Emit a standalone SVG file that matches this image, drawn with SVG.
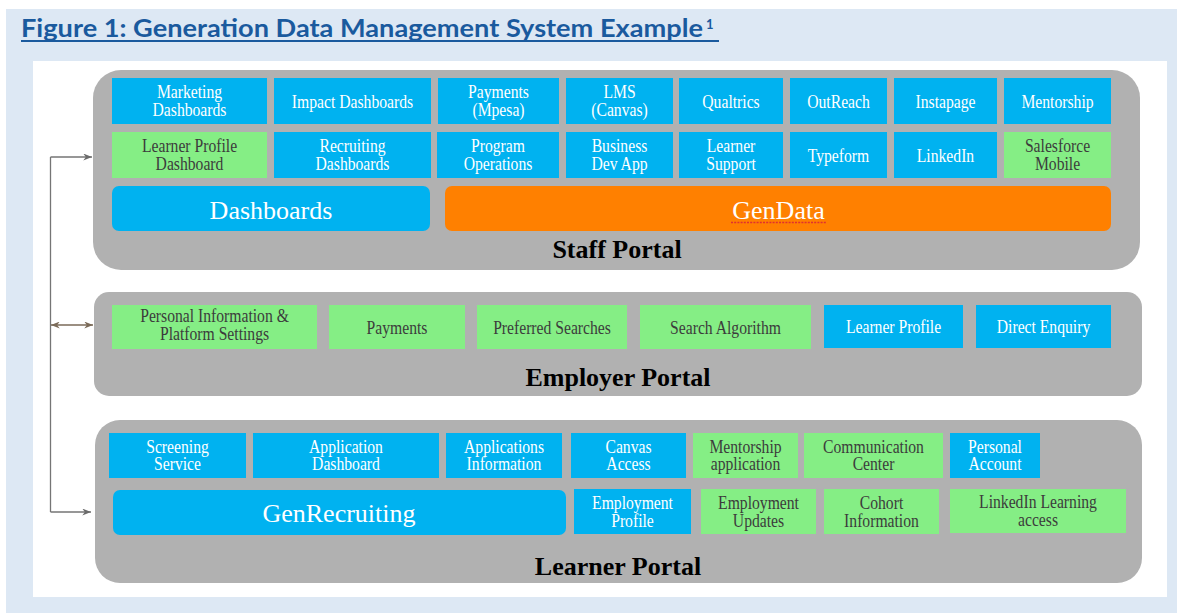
<svg xmlns="http://www.w3.org/2000/svg" width="1177" height="613" viewBox="0 0 1177 613">
  <defs>
    <style>
      .portal{fill:#b1b1b1}
      .b{fill:#00b2f0}
      .g{fill:#85ee85}
      .t{font-family:"Liberation Serif","Times New Roman",serif;font-size:18px;text-anchor:middle}
      .tw{fill:#ffffff}
      .td{fill:#3c3c3c}
      .big{font-family:"Liberation Serif","Times New Roman",serif;font-size:26px;fill:#ffffff;text-anchor:middle}
      .lbl{font-family:"Liberation Serif","Times New Roman",serif;font-size:26px;font-weight:bold;fill:#000000;text-anchor:middle}
      .conn{fill:none;stroke:#757575;stroke-width:1.3}
      .conn2{fill:none;stroke:#7a6a58;stroke-width:1.3}
    </style>
    <marker id="ah" viewBox="0 0 10 8" refX="10" refY="4" markerWidth="9" markerHeight="7" markerUnits="userSpaceOnUse" orient="auto-start-reverse">
      <path d="M0,0 L10,4 L0,8 L3,4 z" fill="#6b6b6b"/>
    </marker>
    <marker id="ahb" viewBox="0 0 10 8" refX="10" refY="4" markerWidth="9" markerHeight="7" markerUnits="userSpaceOnUse" orient="auto-start-reverse">
      <path d="M0,0 L10,4 L0,8 L3,4 z" fill="#7a6a58"/>
    </marker>
  </defs>

  <!-- page background and figure panel -->
  <rect x="0" y="0" width="1177" height="613" fill="#ffffff"/>
  <rect x="6" y="9" width="1171" height="604" fill="#dde8f4"/>
  <rect x="33" y="61" width="1134" height="536" fill="#ffffff"/>

  <!-- caption -->
  <g id="caption">
    <text x="21" y="37" font-family="Lato, 'Liberation Sans', sans-serif" font-weight="bold" font-size="25.5" fill="#1a5a9e" textLength="682" lengthAdjust="spacingAndGlyphs">Figure 1: Generation Data Management System Example</text>
    <text x="706" y="29" font-family="Lato, 'Liberation Sans', sans-serif" font-weight="bold" font-size="13" fill="#1a5a9e">1</text>
    <line x1="21" y1="41" x2="719" y2="41" stroke="#1a5a9e" stroke-width="2"/>
  </g>

  <!-- Staff Portal -->
  <g id="staff-portal">
    <rect class="portal" x="93" y="70" width="1047" height="200" rx="28"/>
    <text class="lbl" x="617" y="258">Staff Portal</text>
  </g>
  <g id="marketing-dashboards"><rect class="b" x="112" y="78" width="155" height="46"/>
    <text class="t tw" transform="translate(189.5 98) scale(.87 1)"><tspan x="0">Marketing</tspan><tspan x="0" dy="18">Dashboards</tspan></text></g>
  <g id="impact-dashboards"><rect class="b" x="274" y="78" width="157" height="46"/>
    <text class="t tw" transform="translate(352.5 107.5) scale(.87 1)">Impact Dashboards</text></g>
  <g id="payments-mpesa"><rect class="b" x="438" y="78" width="121" height="46"/>
    <text class="t tw" transform="translate(498.5 98) scale(.87 1)"><tspan x="0">Payments</tspan><tspan x="0" dy="18">(Mpesa)</tspan></text></g>
  <g id="lms-canvas"><rect class="b" x="566" y="78" width="107" height="46"/>
    <text class="t tw" transform="translate(619.5 98) scale(.87 1)"><tspan x="0">LMS</tspan><tspan x="0" dy="18">(Canvas)</tspan></text></g>
  <g id="qualtrics"><rect class="b" x="679" y="78" width="104" height="46"/>
    <text class="t tw" transform="translate(731 107.5) scale(.87 1)">Qualtrics</text></g>
  <g id="outreach"><rect class="b" x="790" y="78" width="97" height="46"/>
    <text class="t tw" transform="translate(838.5 107.5) scale(.87 1)">OutReach</text></g>
  <g id="instapage"><rect class="b" x="894" y="78" width="103" height="46"/>
    <text class="t tw" transform="translate(945.5 107.5) scale(.87 1)">Instapage</text></g>
  <g id="mentorship"><rect class="b" x="1004" y="78" width="107" height="46"/>
    <text class="t tw" transform="translate(1057.5 107.5) scale(.87 1)">Mentorship</text></g>

  <g id="learner-profile-dashboard"><rect class="g" x="112" y="132" width="155" height="46"/>
    <text class="t td" transform="translate(189.5 152) scale(.87 1)"><tspan x="0">Learner Profile</tspan><tspan x="0" dy="18">Dashboard</tspan></text></g>
  <g id="recruiting-dashboards"><rect class="b" x="274" y="132" width="157" height="46"/>
    <text class="t tw" transform="translate(352.5 152) scale(.87 1)"><tspan x="0">Recruiting</tspan><tspan x="0" dy="18">Dashboards</tspan></text></g>
  <g id="program-operations"><rect class="b" x="437" y="132" width="122" height="46"/>
    <text class="t tw" transform="translate(498 152) scale(.87 1)"><tspan x="0">Program</tspan><tspan x="0" dy="18">Operations</tspan></text></g>
  <g id="business-dev-app"><rect class="b" x="566" y="132" width="107" height="46"/>
    <text class="t tw" transform="translate(619.5 152) scale(.87 1)"><tspan x="0">Business</tspan><tspan x="0" dy="18">Dev App</tspan></text></g>
  <g id="learner-support"><rect class="b" x="679" y="132" width="104" height="46"/>
    <text class="t tw" transform="translate(731 152) scale(.87 1)"><tspan x="0">Learner</tspan><tspan x="0" dy="18">Support</tspan></text></g>
  <g id="typeform"><rect class="b" x="790" y="132" width="97" height="46"/>
    <text class="t tw" transform="translate(838.5 161.5) scale(.87 1)">Typeform</text></g>
  <g id="linkedin"><rect class="b" x="894" y="132" width="103" height="46"/>
    <text class="t tw" transform="translate(945.5 161.5) scale(.87 1)">LinkedIn</text></g>
  <g id="salesforce-mobile"><rect class="g" x="1004" y="132" width="107" height="46"/>
    <text class="t td" transform="translate(1057.5 152) scale(.87 1)"><tspan x="0">Salesforce</tspan><tspan x="0" dy="18">Mobile</tspan></text></g>

  <g id="dashboards"><rect class="b" x="112" y="186" width="318" height="45" rx="7"/>
    <text class="big" x="271" y="219">Dashboards</text></g>
  <g id="gendata"><rect x="445" y="186" width="666" height="45" rx="7" fill="#ff8000"/>
    <text class="big" x="778.5" y="219">GenData</text>
    <line x1="731" y1="222.5" x2="826" y2="222.5" stroke="#e03030" stroke-width="1.4" stroke-dasharray="2 1.2"/></g>

  <!-- Employer Portal -->
  <g id="employer-portal">
    <rect class="portal" x="94" y="292" width="1048" height="104" rx="15"/>
    <text class="lbl" x="618" y="386">Employer Portal</text>
  </g>
  <g id="personal-information"><rect class="g" x="112" y="305" width="205" height="44"/>
    <text class="t td" transform="translate(214.5 322) scale(.87 1)"><tspan x="0">Personal Information &amp;</tspan><tspan x="0" dy="18">Platform Settings</tspan></text></g>
  <g id="employer-payments"><rect class="g" x="329" y="305" width="136" height="44"/>
    <text class="t td" transform="translate(397 333.5) scale(.87 1)">Payments</text></g>
  <g id="preferred-searches"><rect class="g" x="477" y="305" width="150" height="44"/>
    <text class="t td" transform="translate(552 333.5) scale(.87 1)">Preferred Searches</text></g>
  <g id="search-algorithm"><rect class="g" x="640" y="305" width="171" height="44"/>
    <text class="t td" transform="translate(725.5 333.5) scale(.87 1)">Search Algorithm</text></g>
  <g id="learner-profile"><rect class="b" x="824" y="305" width="139" height="43"/>
    <text class="t tw" transform="translate(893.5 333) scale(.87 1)">Learner Profile</text></g>
  <g id="direct-enquiry"><rect class="b" x="976" y="305" width="135" height="43"/>
    <text class="t tw" transform="translate(1043.5 333) scale(.87 1)">Direct Enquiry</text></g>

  <!-- Learner Portal -->
  <g id="learner-portal">
    <rect class="portal" x="95" y="420" width="1047" height="163" rx="25"/>
    <text class="lbl" x="618" y="575">Learner Portal</text>
  </g>
  <g id="screening-service"><rect class="b" x="109" y="433" width="137" height="45"/>
    <text class="t tw" transform="translate(177.5 452.5) scale(.87 1)"><tspan x="0">Screening</tspan><tspan x="0" dy="18">Service</tspan></text></g>
  <g id="application-dashboard"><rect class="b" x="253" y="433" width="186" height="45"/>
    <text class="t tw" transform="translate(346 452.5) scale(.87 1)"><tspan x="0">Application</tspan><tspan x="0" dy="18">Dashboard</tspan></text></g>
  <g id="applications-information"><rect class="b" x="446" y="433" width="116" height="45"/>
    <text class="t tw" transform="translate(504 452.5) scale(.87 1)"><tspan x="0">Applications</tspan><tspan x="0" dy="18">Information</tspan></text></g>
  <g id="canvas-access"><rect class="b" x="571" y="433" width="115" height="45"/>
    <text class="t tw" transform="translate(628.5 452.5) scale(.87 1)"><tspan x="0">Canvas</tspan><tspan x="0" dy="18">Access</tspan></text></g>
  <g id="mentorship-application"><rect class="g" x="693" y="433" width="105" height="45"/>
    <text class="t td" transform="translate(745.5 452.5) scale(.87 1)"><tspan x="0">Mentorship</tspan><tspan x="0" dy="18">application</tspan></text></g>
  <g id="communication-center"><rect class="g" x="804" y="433" width="139" height="45"/>
    <text class="t td" transform="translate(873.5 452.5) scale(.87 1)"><tspan x="0">Communication</tspan><tspan x="0" dy="18">Center</tspan></text></g>
  <g id="personal-account"><rect class="b" x="950" y="433" width="90" height="45"/>
    <text class="t tw" transform="translate(995 452.5) scale(.87 1)"><tspan x="0">Personal</tspan><tspan x="0" dy="18">Account</tspan></text></g>

  <g id="genrecruiting"><rect class="b" x="113" y="490" width="453" height="45" rx="7"/>
    <text class="big" x="339" y="522">GenRecruiting</text></g>
  <g id="employment-profile"><rect class="b" x="574" y="489" width="117" height="45"/>
    <text class="t tw" transform="translate(632.5 509) scale(.87 1)"><tspan x="0">Employment</tspan><tspan x="0" dy="18">Profile</tspan></text></g>
  <g id="employment-updates"><rect class="g" x="701" y="489" width="115" height="45"/>
    <text class="t td" transform="translate(758.5 509) scale(.87 1)"><tspan x="0">Employment</tspan><tspan x="0" dy="18">Updates</tspan></text></g>
  <g id="cohort-information"><rect class="g" x="824" y="489" width="115" height="45"/>
    <text class="t td" transform="translate(881.5 509) scale(.87 1)"><tspan x="0">Cohort</tspan><tspan x="0" dy="18">Information</tspan></text></g>
  <g id="linkedin-learning"><rect class="g" x="950" y="489" width="176" height="44"/>
    <text class="t td" transform="translate(1038 508) scale(.87 1)"><tspan x="0">LinkedIn Learning</tspan><tspan x="0" dy="18">access</tspan></text></g>

  <!-- connectors between the portals -->
  <g id="connectors">
    <path class="conn" d="M50.5,157 V512"/>
    <path class="conn" d="M50.5,157 H92" marker-end="url(#ah)"/>
    <path class="conn" d="M50.5,512 H91" marker-end="url(#ah)"/>
    <path class="conn2" d="M51,325 H93" marker-start="url(#ahb)" marker-end="url(#ahb)"/>
  </g>
</svg>
